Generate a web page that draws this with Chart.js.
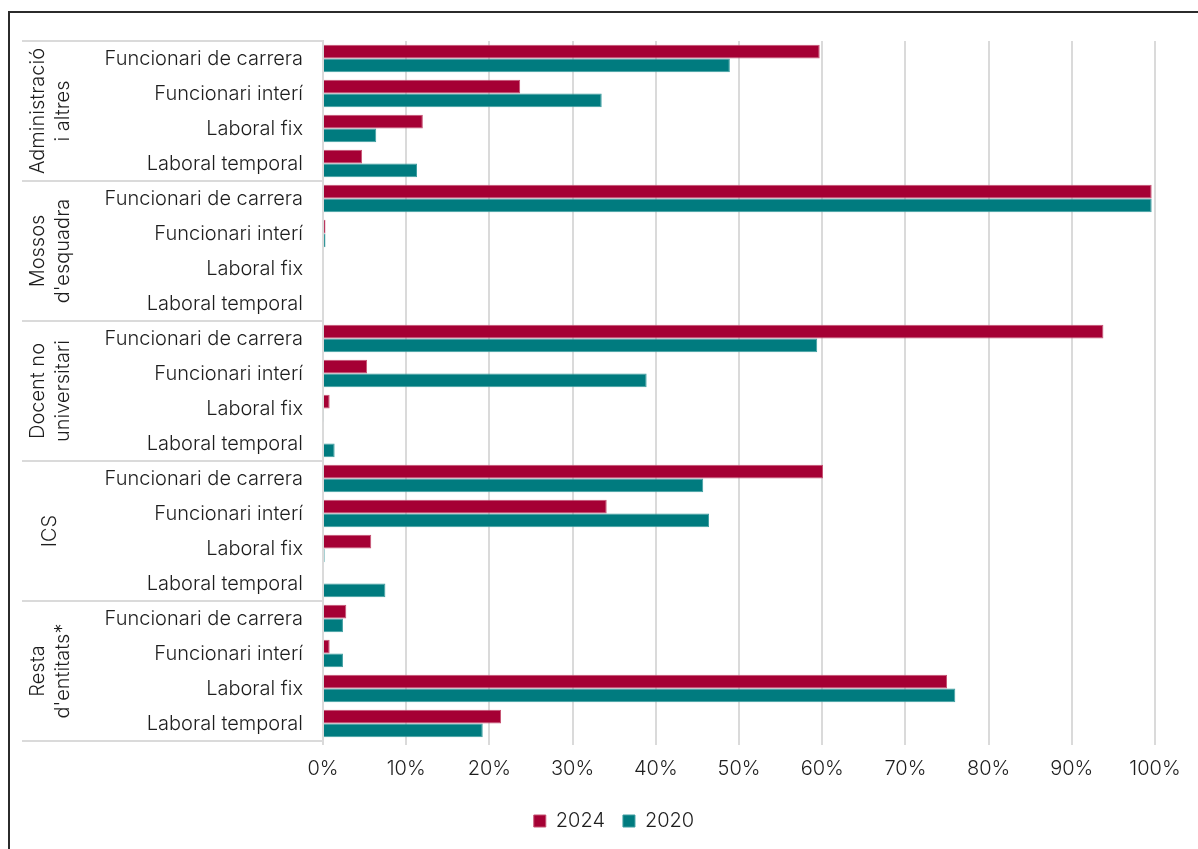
<!DOCTYPE html>
<html lang="ca">
<head>
    <meta charset="UTF-8">
    <title>Tipus de vinculació</title>
    <script src="https://cdn.jsdelivr.net/npm/chart.js"></script>
    <style>
        html, body { margin: 0; padding: 0; background: #fff; }
        #wrap { position: absolute; left: 0; top: 0; width: 1198px; height: 849px; }
    </style>
</head>
<body>
<div id="wrap">
    <canvas id="myChart" width="1198" height="849"></canvas>
</div>
<script>
    const groups = [
        ['Administració', 'i altres'],
        ['Mossos', "d'esquadra"],
        ['Docent no', 'universitari'],
        ['ICS'],
        ['Resta', "d'entitats*"]
    ];
    const types = ['Funcionari de carrera', 'Funcionari interí', 'Laboral fix', 'Laboral temporal'];
    const seriesNames = ['2024', '2020'];
    const values2024 = [59.7, 23.7, 12.0, 4.7, 99.6, 0.3, 0, 0, 93.8, 5.3, 0.8, 0, 60.1, 34.1, 5.8, 0, 2.8, 0.8, 75.0, 21.4];
    const values2020 = [48.9, 33.5, 6.4, 11.3, 99.6, 0.3, 0, 0, 59.4, 38.9, 0.1, 1.4, 45.7, 46.4, 0.2, 7.5, 2.4, 2.4, 76.0, 19.2];

    const FONT = 'Inter, "Liberation Sans", Arial, sans-serif';
    const FONT_SIZE = 20;
    const FONT_WEIGHT = 300;
    const TEXT = '#1e1e1e';
    const GRID = '#dadada';

    const labels = [];
    groups.forEach(() => types.forEach(t => labels.push(t)));

    // frame, group separators and rotated group names
    const groupPlugin = {
        id: 'groups',
        beforeDraw(chart) {
            const ctx = chart.ctx;
            ctx.save();
            ctx.strokeStyle = '#2b2b2b';
            ctx.lineWidth = 2;
            ctx.beginPath();
            ctx.moveTo(9, chart.height);
            ctx.lineTo(9, 12);
            ctx.lineTo(chart.width, 12);
            ctx.stroke();
            ctx.restore();
        },
        afterDraw(chart) {
            const ctx = chart.ctx;
            const y = chart.scales.y;
            const left = 22, right = chart.chartArea.left;
            const step = (y.bottom - y.top) / groups.length;
            ctx.save();
            ctx.strokeStyle = GRID;
            ctx.lineWidth = 2;
            for (let i = 0; i <= groups.length; i++) {
                const yy = y.top + step * i;
                ctx.beginPath();
                ctx.moveTo(left, yy);
                ctx.lineTo(right, yy);
                ctx.stroke();
            }
            ctx.fillStyle = TEXT;
            ctx.font = FONT_WEIGHT + ' ' + FONT_SIZE + 'px ' + FONT;
            ctx.textAlign = 'center';
            ctx.textBaseline = 'middle';
            groups.forEach((g, gi) => {
                const cy = y.top + step * (gi + 0.5);
                const lh = 25;
                const cx0 = 50 - (g.length - 1) * lh / 2;
                g.forEach((line, li) => {
                    ctx.save();
                    ctx.translate(cx0 + li * lh, cy);
                    ctx.rotate(-Math.PI / 2);
                    ctx.fillText(line, 0, 0);
                    ctx.restore();
                });
            });
            ctx.restore();
        }
    };

    Chart.defaults.font.family = FONT;
    Chart.defaults.font.size = FONT_SIZE;
    Chart.defaults.font.weight = FONT_WEIGHT;
    Chart.defaults.color = TEXT;

    new Chart(document.getElementById('myChart'), {
        type: 'bar',
        data: {
            labels: labels,
            datasets: [{
                label: seriesNames[0],
                data: values2024,
                backgroundColor: '#A50034',
                borderColor: '#C65273',
                borderWidth: 1,
                categoryPercentage: 0.78,
                barPercentage: 1.0
            }, {
                label: seriesNames[1],
                data: values2020,
                backgroundColor: '#007B7F',
                borderColor: '#3E9EA1',
                borderWidth: 1,
                categoryPercentage: 0.78,
                barPercentage: 1.0
            }]
        },
        options: {
            indexAxis: 'y',
            responsive: false,
            animation: false,
            layout: {
                padding: {top: 41, left: 73, right: 43, bottom: 8}
            },
            scales: {
                x: {
                    min: 0,
                    max: 100,
                    ticks: {
                        stepSize: 10,
                        padding: 12,
                        maxRotation: 0,
                        callback: v => v + '%'
                    },
                    grid: {color: GRID, lineWidth: 2, tickLength: 4},
                    border: {display: false},
                    afterFit: s => { s.height = 52; }
                },
                y: {
                    ticks: {padding: 20, autoSkip: false},
                    grid: {display: false, drawTicks: false},
                    border: {display: true, color: GRID, width: 2},
                    afterFit: s => { s.width = 250; }
                }
            },
            plugins: {
                tooltip: {enabled: false},
                legend: {
                    position: 'bottom',
                    labels: {boxWidth: 12, boxHeight: 12, padding: 18}
                }
            }
        },
        plugins: [groupPlugin]
    });
</script>
</body>
</html>
